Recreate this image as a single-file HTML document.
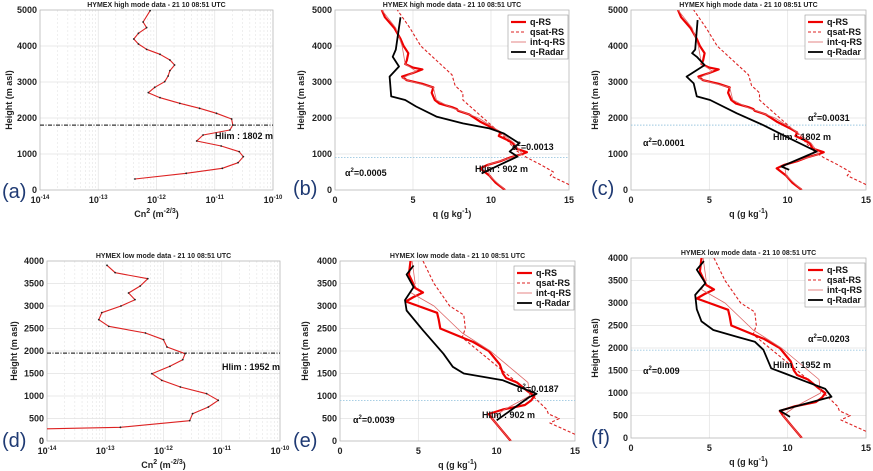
<!DOCTYPE html>
<html><head><meta charset="utf-8"><style>
body{margin:0;background:#fff;}
svg{display:block;font-family:"Liberation Sans",Arial,sans-serif;}
.tk{font-size:9px;font-weight:bold;fill:#222;}
.ttl{font-size:7px;font-weight:bold;fill:#222;}
.ann{font-size:9px;font-weight:bold;fill:#111;}
.pl{font-size:20px;fill:#1f3a73;}
</style></head><body>
<svg id="fig" width="873" height="471" viewBox="0 0 873 471" xmlns="http://www.w3.org/2000/svg"></svg>
<script>
// ---- Cn2 profiles (log10 values) ----
const cnA_h=[305,463,602,759,926,1065,1222,1361,1528,1667,1806,1972,2130,2269,2407,2565,2704,2852,3009,3167,3315,3472,3611,3769,3907,4056,4194,4352,4509,4667,4981];
const cnA_v=[-12.37,-11.49,-10.87,-10.60,-10.51,-10.58,-10.89,-11.31,-11.20,-10.74,-10.69,-10.71,-10.97,-11.26,-11.60,-11.94,-12.14,-12.03,-11.86,-11.80,-11.77,-11.69,-11.77,-11.94,-12.17,-12.31,-12.39,-12.31,-12.17,-12.23,-12.11];
const cnD_h=[267,304,452,607,756,904,1052,1200,1348,1496,1659,1807,1941,2089,2252,2400,2548,2696,2852,3000,3141,3289,3444,3607,3741,3904];
const cnD_v=[-14.2,-12.74,-11.55,-11.50,-11.23,-11.06,-11.26,-11.71,-12.03,-12.20,-11.89,-11.67,-11.63,-11.94,-12.00,-12.31,-12.94,-13.11,-13.06,-12.73,-12.49,-12.60,-12.40,-12.27,-12.83,-12.97];
// ---- high mode q profiles ----
const qH_h=[0,200,400,500,600,700,800,900,1000,1050,1150,1300,1400,1500,1600,1700,1900,2100,2200,2250,2300,2400,2500,2700,2850,2950,3050,3150,3250,3350,3400,3500,3600,3800,4000,4200,4500,4800,5000];
const qH_v=[10.9,10.3,9.9,9.6,9.3,9.8,10.6,11.2,12.0,12.3,11.6,11.4,11.0,10.5,10.6,10.2,9.3,8.6,7.9,7.8,7.5,6.7,6.4,6.2,6.3,5.6,4.6,4.3,5.0,5.6,5.0,4.5,4.6,4.7,4.4,4.2,3.8,3.2,3.0];
const qsH_h=[150,400,500,600,700,900,1100,1500,2000,2500,2700,2900,3200,3600,4000,4500,5000];
const qsH_v=[15.0,13.8,14.0,13.6,13.2,12.3,11.6,10.8,9.5,8.2,8.2,7.7,7.5,6.5,5.5,4.8,4.0];
const iH_h=[0,400,700,1000,1300,1700,2000,2300,2500,2850,3000,3100,3300,3500,4000,4500,5000];
const iH_v=[10.9,9.9,9.8,12.0,11.5,10.3,9.2,7.4,6.5,6.3,5.0,4.3,5.2,4.5,4.3,3.9,3.0];
const rB_h=[460,930,1070,1300,1575,1710,1850,2040,2320,2500,2600,3150,3430,3700,3900,4800];
const rB_v=[9.4,11.7,11.2,11.8,10.8,9.9,8.2,6.5,5.2,4.5,3.6,3.5,4.1,3.7,3.9,4.2];
const rC_h=[560,650,1070,1440,1800,2130,2500,2600,2960,3150,3470,3700,3800,3900,4720];
const rC_v=[10.1,9.6,11.85,10.1,8.45,6.75,5.05,4.2,4.0,3.55,4.7,4.2,3.9,4.1,4.25];
// ---- low mode q profiles ----
const qL_h=[0,250,500,600,700,800,900,1000,1100,1300,1400,1500,1700,2000,2200,2300,2500,2700,2850,3000,3100,3200,3300,3400,3550,3700,4000];
const qL_v=[10.9,10.3,9.7,9.5,10.4,11.8,12.2,12.4,12.0,11.3,10.6,10.4,10.2,9.5,8.5,7.8,6.4,6.3,6.2,5.0,4.2,4.7,5.3,4.8,4.6,4.4,4.5];
const qsL_h=[150,400,500,600,700,900,1100,2300,2500,2800,3000,3500,4000];
const qsL_v=[15.0,13.4,14.0,13.3,13.2,12.6,12.0,7.8,8.0,7.9,7.0,6.0,5.3];
const iL_h=[0,500,700,1000,1300,2000,2400,3000,3300,3500,4000];
const iL_v=[10.9,9.7,10.5,12.1,12.0,9.6,7.8,6.0,4.5,4.8,4.6];
const rE_h=[460,980,1050,1350,1500,1650,1940,2460,2900,3130,3420,3700,3900];
const rE_v=[10.0,12.1,12.55,10.4,7.9,7.2,6.6,5.3,4.25,4.15,4.7,4.25,4.7];
const rF_h=[470,610,915,1090,1250,1430,1550,1960,2140,2250,2400,2590,2860,3180,3440,3740,3930];
const rF_v=[10.15,9.5,12.8,12.4,11.2,9.85,8.95,8.45,7.9,6.75,5.25,4.5,4.2,4.1,4.75,4.2,4.65];
const qTicks=[0,5,10,15];
const logTicks=[-14,-13,-12,-11,-10];
const hTicksHigh=[0,1000,2000,3000,4000,5000];
const hTicksLow=[0,500,1000,1500,2000,2500,3000,3500,4000];

const NS='http://www.w3.org/2000/svg';
const fig=document.getElementById('fig');
function mk(tag,attrs,parent,txt){const e=document.createElementNS(NS,tag);for(const k in attrs)e.setAttribute(k,attrs[k]);if(txt!==undefined)e.textContent=txt;(parent||fig).appendChild(e);return e;}
let cid=0;
function panel(p){
  const g=mk('g',{});
  
  
  const W=p.x1-p.x0,H=p.y1-p.y0;
  const sx=p.log?(v=>p.x0+(v+14)/4*W):(v=>p.x0+v/15*W);
  const sy=h=>p.y1-h/p.hmax*H;
  // grid
  const xt=p.log?logTicks:qTicks;
  if(p.log){for(let d=-14;d<-10;d++)for(let k=2;k<10;k++){const x=sx(d+Math.log10(k));mk('line',{x1:x,x2:x,y1:p.y0,y2:p.y1,stroke:'#e4e4e4','stroke-width':0.6,'stroke-dasharray':'2,2'},g);}}
  xt.forEach(t=>{const x=sx(t);mk('line',{x1:x,x2:x,y1:p.y0,y2:p.y1,stroke:'#e2e2e2','stroke-width':0.7},g);});
  p.ht.forEach(t=>{const y=sy(t);mk('line',{x1:p.x0,x2:p.x1,y1:y,y2:y,stroke:'#e2e2e2','stroke-width':0.7},g);});
  mk('rect',{x:p.x0,y:p.y0,width:W,height:H,fill:'none',stroke:'#bbb','stroke-width':0.8},g);
  // ticks labels
  xt.forEach(t=>{const x=sx(t);
    if(p.log){const tx=mk('text',{x:x,y:p.y1+13,'text-anchor':'middle',class:'tk'},g);tx.textContent='10';mk('tspan',{dy:-4,'font-size':6},tx,String(t));
      }
    else{const tx=mk('text',{x:x,y:p.y1+13,'text-anchor':'middle',class:'tk'},g,String(t));}
  });
  p.ht.forEach(t=>{const tx=mk('text',{x:p.x0-3,y:sy(t)+3,'text-anchor':'end',class:'tk'},g,String(t));});
  const tt=mk('text',{x:(p.x0+p.x1)/2,y:p.y0-3,'text-anchor':'middle',class:'ttl'},g,p.title);
  
  const yl=mk('text',{x:0,y:0,transform:`translate(${p.ylx},${(p.y0+p.y1)/2}) rotate(-90)`,'text-anchor':'middle',class:'tk','font-size':10},g,'Height (m asl)');
  
  const xl=mk('text',{x:(p.x0+p.x1)/2,y:p.y1+27,'text-anchor':'middle',class:'tk','font-size':10},g);
  
  if(p.log){xl.textContent='Cn';mk('tspan',{dy:-4,'font-size':7},xl,'2');mk('tspan',{dy:4},xl,' (m');mk('tspan',{dy:-4,'font-size':7},xl,'-2/3');mk('tspan',{dy:4},xl,')');}
  else{xl.textContent='q (g kg';mk('tspan',{dy:-4,'font-size':7},xl,'-1');mk('tspan',{dy:4},xl,')');}
  // clip
  const id='c'+(cid++);const cp=mk('clipPath',{id:id},g);mk('rect',{x:p.x0,y:p.y0,width:W,height:H},cp);
  const dg=mk('g',{'clip-path':`url(#${id})`},g);
  // hlim line
  const hy=sy(p.hlim);
  const hl=mk('line',{x1:p.x0,x2:p.x1,y1:hy,y2:hy,stroke:p.log?'#333':'#9cc8e0','stroke-width':p.log?1.2:0.9,'stroke-dasharray':p.log?'4,1.5,1,1.5':'1.5,1.5'},dg);
  
  const pts=(H_,V)=>H_.map((h,i)=>sx(V[i]).toFixed(1)+','+sy(h).toFixed(1)).join(' ');
  p.series.forEach(s=>{
    const l=mk('polyline',{points:pts(s.h,s.v),fill:'none',stroke:s.c,'stroke-width':s.w,'stroke-dasharray':s.d||'none','stroke-linejoin':'round'},dg);
    
    if(s.m){s.h.forEach((h,i)=>{const c=mk('circle',{cx:sx(s.v[i]),cy:sy(h),r:0.9,fill:'#222'},dg);});}
  });
  p.ann.forEach(a=>{const t=mk('text',{x:a[0],y:a[1],class:'ann'},g);
    
    if(a[2][0]==='α'){t.textContent='α';mk('tspan',{dy:-4,'font-size':6},t,'2');mk('tspan',{dy:4},t,a[2].slice(1));}else t.textContent=a[2];});
  const lb=mk('text',{x:p.lx,y:p.ly,class:'pl'},g,p.label);
  
  if(!p.log){
    const lx=p.x1-61,ly=p.y0+5;
    const lg=mk('g',{},g);
    mk('rect',{x:lx,y:ly,width:60,height:44,fill:'#fff',stroke:'#999','stroke-width':0.6},lg);
    const items=[['q-RS','#e00',2.2,''],['qsat-RS','#d22',1.1,'3,2'],['int-q-RS','#d66',0.8,''],['q-Radar','#000',1.8,'']];
    items.forEach((it,i)=>{const y=ly+7+i*10;
      const le=mk('g',{},lg);
      mk('line',{x1:lx+3,x2:lx+18,y1:y,y2:y,stroke:it[1],'stroke-width':it[2],'stroke-dasharray':it[3]||'none'},le);
      mk('text',{x:lx+22,y:y+3,class:'ann','font-size':8.5},le,it[0]);});
  }
}
const T1='HYMEX high mode data - 21 10 08:51 UTC',T2='HYMEX low mode data - 21 10 08:51 UTC';
const S=(h,v,c,w,n,d)=>({h,v,c,w,n,d});
panel({id:'a',log:true,x0:40,x1:273,y0:10,y1:190,hmax:5000,ht:hTicksHigh,title:T1,ylx:12,hlim:1802,label:'(a)',lx:2,ly:198,
  series:[Object.assign(S(cnA_h,cnA_v,'#d22',1.1,'cn2-profile'),{m:true})],ann:[[215,139,'Hlim : 1802 m','hlim-label']]});
panel({id:'b',log:false,x0:335,x1:569,y0:10,y1:190,hmax:5000,ht:hTicksHigh,title:T1,ylx:304,hlim:902,label:'(b)',lx:293,ly:195,
  series:[S(qsH_h,qsH_v,'#d22',1.1,'qsat-rs-line','3,2'),S(qH_h,qH_v,'#e00',2.2,'q-rs-line'),S(iH_h,iH_v,'#d66',0.8,'int-q-rs-line'),S(rB_h,rB_v,'#000',1.8,'q-radar-line')],
  ann:[[345,176,'α=0.0005','alpha-low'],[475,172,'Hlim :  902 m','hlim-label'],[512,150,'α=0.0013','alpha-high']]});
panel({id:'c',log:false,x0:631,x1:866,y0:10,y1:190,hmax:5000,ht:hTicksHigh,title:T1,ylx:598,hlim:1802,label:'(c)',lx:591,ly:195,
  series:[S(qsH_h,qsH_v,'#d22',1.1,'qsat-rs-line','3,2'),S(qH_h,qH_v,'#e00',2.2,'q-rs-line'),S(iH_h,iH_v,'#d66',0.8,'int-q-rs-line'),S(rC_h,rC_v,'#000',1.8,'q-radar-line')],
  ann:[[808,121,'α=0.0031','alpha-high'],[643,146,'α=0.0001','alpha-low'],[773,140,'Hlim : 1802 m','hlim-label']]});
panel({id:'d',log:true,x0:47,x1:280,y0:261,y1:441,hmax:4000,ht:hTicksLow,title:T2,ylx:17,hlim:1952,label:'(d)',lx:2,ly:447,
  series:[Object.assign(S(cnD_h,cnD_v,'#d22',1.1,'cn2-profile'),{m:true})],ann:[[222,370,'Hlim : 1952 m','hlim-label']]});
panel({id:'e',log:false,x0:340,x1:575,y0:261,y1:441,hmax:4000,ht:hTicksLow,title:T2,ylx:308,hlim:902,label:'(e)',lx:293,ly:447,
  series:[S(qsL_h,qsL_v,'#d22',1.1,'qsat-rs-line','3,2'),S(qL_h,qL_v,'#e00',2.2,'q-rs-line'),S(iL_h,iL_v,'#d66',0.8,'int-q-rs-line'),S(rE_h,rE_v,'#000',1.8,'q-radar-line')],
  ann:[[517,392,'α=0.0187','alpha-high'],[353,423,'α=0.0039','alpha-low'],[482,418,'Hlim :  902 m','hlim-label']]});
panel({id:'f',log:false,x0:631,x1:866,y0:258,y1:438,hmax:4000,ht:hTicksLow,title:T2,ylx:598,hlim:1952,label:'(f)',lx:591,ly:444,
  series:[S(qsL_h,qsL_v,'#d22',1.1,'qsat-rs-line','3,2'),S(qL_h,qL_v,'#e00',2.2,'q-rs-line'),S(iL_h,iL_v,'#d66',0.8,'int-q-rs-line'),S(rF_h,rF_v,'#000',1.8,'q-radar-line')],
  ann:[[808,342,'α=0.0203','alpha-high'],[643,374,'α=0.009','alpha-low'],[773,368,'Hlim :  1952 m','hlim-label']]});
</script>
</body></html>
